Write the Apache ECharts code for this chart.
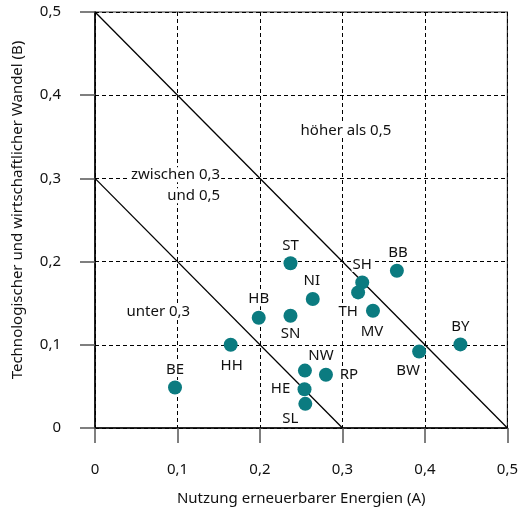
<!DOCTYPE html>
<html>
<head>
<meta charset="utf-8">
<script src="https://cdn.jsdelivr.net/npm/echarts@6/dist/echarts.min.js"></script>
<style>html,body{margin:0;padding:0;background:#fff}#c{width:521px;height:511px}</style>
</head>
<body>
<div id="c"></div>
<script>
// Data
const states = ['ST','BB','SH','TH','NI','MV','HB','SN','HH','BY','BW','NW','RP','HE','SL','BE'];
const valuesA = [0.237,0.366,0.324,0.319,0.264,0.337,0.1985,0.237,0.1645,0.443,0.393,0.2545,0.280,0.254,0.255,0.097];
const valuesB = [0.198,0.189,0.175,0.163,0.155,0.141,0.1325,0.135,0.100,0.1005,0.092,0.069,0.064,0.0466,0.029,0.0487];
const tickValues = [0,0.1,0.2,0.3,0.4,0.5];
const boundaryHigh = [[0,0.5],[0.5,0]];
const boundaryLow = [[0,0.3],[0.3,0]];
const regionTexts = ['höher als 0,5','zwischen 0,3\nund 0,5','unter 0,3'];
const regionAnchors = [[0.3042,0.3575],[0.1529,0.2918],[0.0768,0.1394]];

// Styles (label offsets in px)
const labelOffsets = {ST:[0,-18],BB:[1,-18],SH:[0,-18],TH:[-10,19],NI:[-1,-18],MV:[-1,21],HB:[0,-19],SN:[0,18],HH:[1,21],BY:[0,-18],BW:[-11,19],NW:[16,-15],RP:[23,0],HE:[-24,0],SL:[-15,15],BE:[0,-18]};
const regionAligns = ['center','right','center'];
const FONT = 'Noto Sans';
const TXT = '#111';

const fmt = v => v === 0 ? '0' : String(+v.toFixed(1)).replace('.', ',');

const axisCommon = {
  type:'value', min:0, max:0.5, interval:0.1,
  axisLine:{show:true, lineStyle:{color:'#000', width:1.5}},
  axisTick:{show:true, inside:false, length:15, lineStyle:{color:'#555', width:1.5}},
  splitLine:{show:true, lineStyle:{color:'#000', type:[4,3], width:1}},
  axisLabel:{margin:34, color:TXT, fontFamily:FONT, fontSize:15, formatter:fmt,
             showMinLabel:true, showMaxLabel:true},
  nameLocation:'middle',
  nameTextStyle:{color:TXT, fontFamily:FONT, fontSize:15}
};

const richBox = (align) => ({
  b:{color:TXT, fontFamily:FONT, fontSize:15, lineHeight:21, backgroundColor:'#fff', padding:[0,1], align:align}
});

const chart = echarts.init(document.getElementById('c'), null, {renderer:'canvas'});
chart.setOption({
  animation:false,
  backgroundColor:'#fff',
  grid:{left:95, right:9, top:12, bottom:83, show:true, borderColor:'#333', borderWidth:1.2, backgroundColor:'transparent'},
  xAxis:Object.assign({}, axisCommon, {name:'Nutzung erneuerbarer Energien (A)', nameGap:63}),
  yAxis:Object.assign({}, axisCommon, {name:'Technologischer und wirtschaftlicher Wandel (B)', nameGap:70,
    nameTextStyle:{color:TXT, fontFamily:FONT, fontSize:15, padding:[0,0,0,20]}}),
  series:[
    {type:'line', data:boundaryHigh, symbol:'none', lineStyle:{color:'#000', width:1.3}, silent:true, z:2},
    {type:'line', data:boundaryLow, symbol:'none', lineStyle:{color:'#000', width:1.3}, silent:true, z:2},
    {type:'scatter', z:4, symbol:'circle', symbolSize:1, silent:true,
      itemStyle:{color:'rgba(0,0,0,0)', opacity:1},
      data: regionTexts.map((t,i)=>({
        value: regionAnchors[i],
        label:{show:true, position:'inside', align:regionAligns[i],
               formatter: t.split('\n').map(l=>'{b|'+l+'}').join('\n'),
               rich: richBox(regionAligns[i])}
      }))
    },
    {type:'scatter', z:5, symbol:'circle', symbolSize:14,
      itemStyle:{color:'#0b7b80', opacity:1},
      data: states.map((s,i)=>({
        name:s, value:[valuesA[i], valuesB[i]],
        label:{show:true, position:'inside', offset:labelOffsets[s], formatter:'{b|'+s+'}',
               rich: richBox('center')}
      }))
    }
  ]
});
</script>
</body>
</html>
